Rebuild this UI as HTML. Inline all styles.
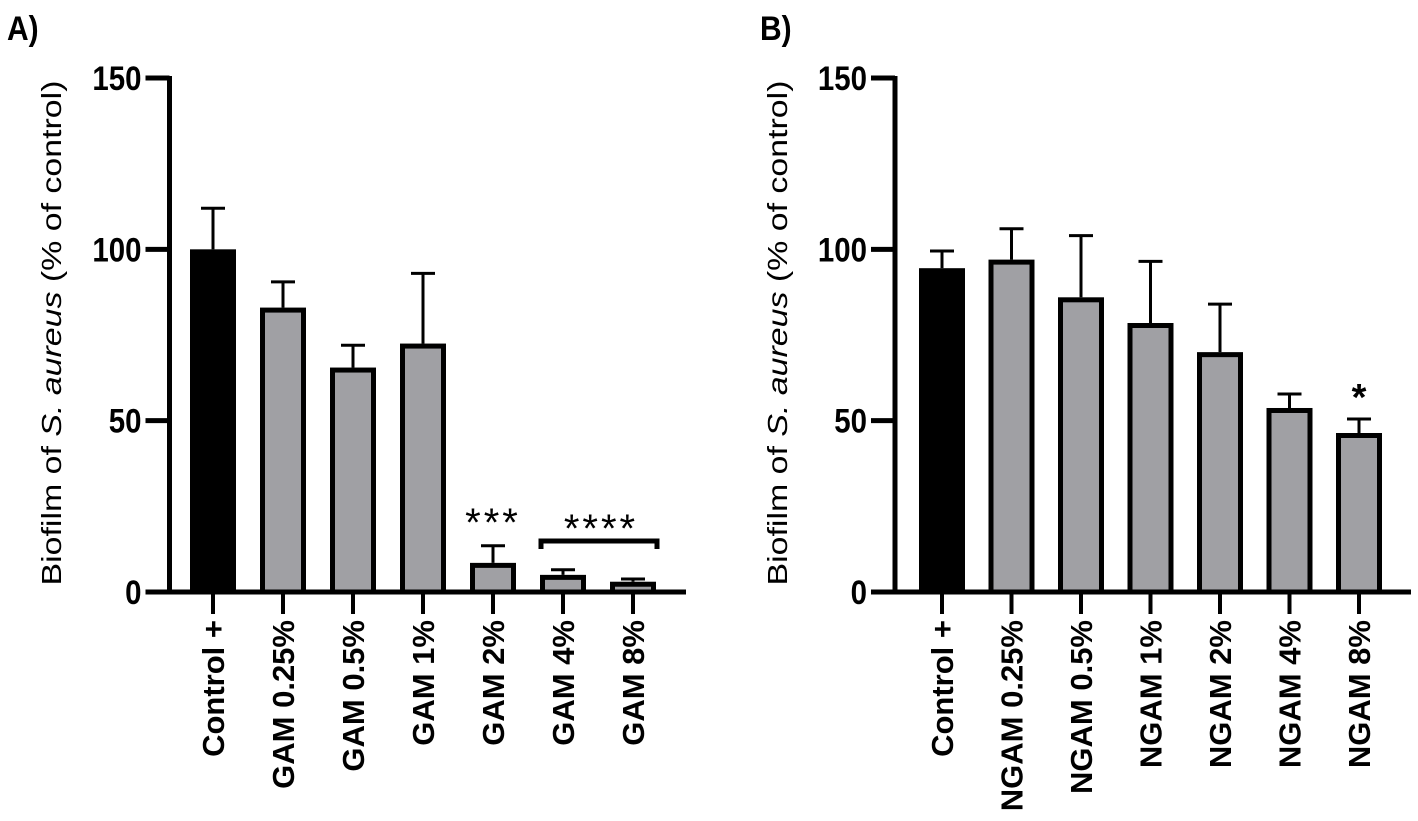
<!DOCTYPE html>
<html><head><meta charset="utf-8"><style>
html,body{margin:0;padding:0;background:#fff;}
svg{display:block;}
text{font-family:"Liberation Sans",Arial,sans-serif;}
</style></head><body>
<svg id="chart" width="1418" height="821" viewBox="0 0 1418 821" xmlns="http://www.w3.org/2000/svg"></svg>
<script>
const catsA = ["Control +","GAM 0.25%","GAM 0.5%","GAM 1%","GAM 2%","GAM 4%","GAM 8%"];
const meansA = [100, 83, 65.5, 72.5, 8.5, 5, 3];
const errA = [112, 90.5, 72, 93, 13.5, 6.5, 3.8];
const catsB = ["Control +","NGAM 0.25%","NGAM 0.5%","NGAM 1%","NGAM 2%","NGAM 4%","NGAM 8%"];
const meansB = [94.5, 97, 86, 78.5, 70, 53.7, 46.4];
const errB = [99.5, 106, 104, 96.5, 84, 57.8, 50.5];
const yTicks = [0, 50, 100, 150];
const yTickLabels = ["0","50","100","150"];

const NS = "http://www.w3.org/2000/svg";
const svg = document.getElementById('chart');
function mk(tag, attrs, parent){
  const e = document.createElementNS(NS, tag);
  for (const k in attrs) e.setAttribute(k, attrs[k]);
  (parent||svg).appendChild(e);
  return e;
}
function yScale(v){ return 592 - v * (514/150); }

function panel(id, axisX, firstC, step, axisEnd, cats, means, errs, titleX, letter, letterX){
  const g = mk('g', {});
  
  
  const lt = mk('text', {x: 0, y: 0, 'font-size': 30, 'font-weight': 'bold',
    transform: 'translate(' + letterX + ',40) scale(1,1.15)'}, g);
  lt.textContent = letter;
  
  
  cats.forEach((c, i) => {
    const cx = firstC + step * i;
    const top = yScale(means[i]);
    const et = yScale(errs[i]);
    const eb = mk('line', {x1: cx, x2: cx, y1: top, y2: et, stroke: '#000', 'stroke-width': 3}, g);
    
    
    const cap = mk('line', {x1: cx - 12, x2: cx + 12, y1: et, y2: et, stroke: '#000', 'stroke-width': 3}, g);
    
    
    const r = mk('rect', {x: cx - 23 + 2.5, y: top + 2.5, width: 41, height: Math.max(0, 592 - top - 2.5),
      fill: i === 0 ? '#000' : '#a0a0a4', stroke: '#000', 'stroke-width': 5}, g);
    
    
    const tk = mk('line', {x1: cx, x2: cx, y1: 592, y2: 614, stroke: '#000', 'stroke-width': 4}, g);
    
    
    const t = mk('text', {x: 0, y: 0, 'font-size': 31, 'font-weight': 'bold', 'text-anchor': 'end',
      transform: 'translate(' + (cx + 11) + ',620) rotate(-90)'}, g);
    t.textContent = c;
    
    
  });
  const ya = mk('line', {x1: axisX, x2: axisX, y1: 76, y2: 594.5, stroke: '#000', 'stroke-width': 5}, g);
  
  
  const xa = mk('line', {x1: axisX - 2.5, x2: axisEnd, y1: 592, y2: 592, stroke: '#000', 'stroke-width': 5}, g);
  
  
  yTicks.forEach((v, i) => {
    const y = yScale(v);
    const tk = mk('line', {x1: axisX - 24, x2: axisX, y1: y, y2: y, stroke: '#000', 'stroke-width': 5}, g);
    
    
    const t = mk('text', {x: 0, y: 0, 'font-size': 31, 'font-weight': 'bold', 'text-anchor': 'end',
      transform: 'translate(' + (axisX - 28) + ',' + (y + 12) + ') scale(0.95,1.12)'}, g);
    t.textContent = yTickLabels[i];
    
    
  });
  const yt = mk('text', {x: 0, y: 0, 'font-size': 28, 'text-anchor': 'middle',
    transform: 'translate(' + titleX + ',333) rotate(-90)', textLength: 505, lengthAdjust: 'spacingAndGlyphs'}, g);
  
  
  yt.innerHTML = 'Biofilm of <tspan font-style="italic">S. aureus</tspan> (% of control)';
  return g;
}

const gA = panel('a', 169.5, 213, 70, 686, catsA, meansA, errA, 61, 'A)', 7);
const gB = panel('b', 895, 942, 69.5, 1411, catsB, meansB, errB, 787, 'B)', 760);

const s1 = mk('text', {x: 213 + 70*4, y: 536, 'font-size': 40, 'text-anchor': 'middle', 'letter-spacing': 3}, gA);
s1.textContent = '***';


const br = mk('path', {d: 'M541 549 V541 H657 V549', fill: 'none', stroke: '#000', 'stroke-width': 5}, gA);


const s2 = mk('text', {x: 601, y: 542, 'font-size': 40, 'text-anchor': 'middle', 'letter-spacing': 3}, gA);
s2.textContent = '****';


const s3 = mk('text', {x: 942 + 69.5*6, y: 410, 'font-size': 38, 'font-weight': 'bold', 'text-anchor': 'middle'}, gB);
s3.textContent = '*';


</script>
</body></html>
